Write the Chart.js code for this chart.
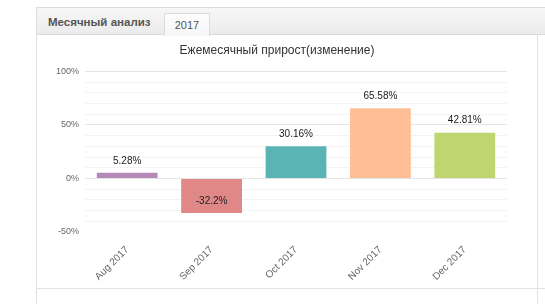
<!DOCTYPE html>
<html>
<head>
<meta charset="utf-8">
<script src="https://cdn.jsdelivr.net/npm/chart.js@4"></script>
<style>
  body { margin: 0; width: 545px; height: 304px; overflow: hidden; background: #fff; font-family: "Liberation Sans", Arial, sans-serif; }
  .abs { position: absolute; }
  #leftLine { left: 36px; top: 7px; width: 1px; height: 297px; background: #dedede; }
  #header { left: 36px; top: 7px; width: 509px; height: 26px; background: linear-gradient(#f7f7f7, #ebebeb); border-top: 1px solid #dcdcdc; border-bottom: 1px solid #dcdcdc; }
  #tabTitle { left: 48px; top: 16px; font-size: 11.5px; font-weight: bold; color: #555; }
  #tab { left: 164px; top: 13px; width: 44px; height: 22px; background: linear-gradient(#fdfdfd, #f6f6f6); border: 1px solid #dcdcdc; border-bottom: none; text-align: center; line-height: 22px; font-size: 11px; color: #555; }
  #rightLine { left: 537px; top: 35px; width: 1px; height: 269px; background: #e3e3e3; }
  #bottomLine { left: 36px; top: 288px; width: 509px; height: 1px; background: #e3e3e3; }
  #wrap { left: 37px; top: 35px; width: 481px; height: 253px; }
</style>
</head>
<body>
<div class="abs" id="header"></div>
<div class="abs" id="leftLine"></div>
<div class="abs" id="tabTitle">Месячный анализ</div>
<div class="abs" id="tab">2017</div>
<div class="abs" id="rightLine"></div>
<div class="abs" id="bottomLine"></div>
<div class="abs" id="wrap"><canvas id="growthChart" width="481" height="253"></canvas></div>
<script>
const months = ['Aug 2017', 'Sep 2017', 'Oct 2017', 'Nov 2017', 'Dec 2017'];
const growth = [5.28, -32.2, 30.16, 65.58, 42.81];
const barColors = ['#b589b7', '#e08787', '#5bb4b4', '#ffbf96', '#bfd670'];
const yTicks = [-50, 0, 50, 100];

// value text above the end of each bar
const valueLabels = {
  id: 'valueLabels',
  afterDatasetsDraw(chart) {
    const ctx = chart.ctx;
    const meta = chart.getDatasetMeta(0);
    ctx.save();
    ctx.font = '10px "Liberation Sans", Arial, sans-serif';
    ctx.fillStyle = '#222';
    ctx.textAlign = 'center';
    ctx.textBaseline = 'middle';
    meta.data.forEach((bar, i) => {
      ctx.fillText(growth[i] + '%', bar.x, bar.y - 12);
    });
    ctx.restore();
  }
};

const ctx = document.getElementById('growthChart').getContext('2d');
let chart = new Chart(ctx, {
  type: 'bar',
  data: {
    labels: months,
    datasets: [{
      data: growth,
      backgroundColor: barColors,
      borderWidth: 0,
      categoryPercentage: 0.8,
      barPercentage: 0.9
    }]
  },
  options: {
    responsive: false,
    animation: false,
    devicePixelRatio: 1,
    layout: { padding: { left: 10, right: 11, top: 0, bottom: 0 } },
    plugins: {
      legend: { display: false },
      tooltip: { enabled: false },
      title: {
        display: true,
        text: 'Ежемесячный прирост(изменение)',
        color: '#333',
        font: { size: 12, weight: 'normal', family: '"Liberation Sans", Arial, sans-serif' },
        padding: { top: 8, bottom: 14 }
      }
    },
    scales: {
      x: {
        grid: { display: false },
        border: { display: false },
        ticks: {
          minRotation: 45,
          maxRotation: 45,
          color: '#666',
          padding: 4,
          font: { size: 10, family: '"Liberation Sans", Arial, sans-serif' }
        },
        afterFit(scale) { scale.height = 56; }
      },
      y: {
        min: -50,
        max: 100,
        border: { display: false },
        grid: {
          drawTicks: false,
          color: (c) => {
            const v = c.tick ? c.tick.value : 0;
            if (v === -50) return 'rgba(0,0,0,0)';
            return v % 50 === 0 ? '#e4e4e4' : '#f3f3f3';
          }
        },
        ticks: {
          stepSize: 10,
          autoSkip: false,
          padding: 6,
          color: '#666',
          font: { size: 9, family: '"Liberation Sans", Arial, sans-serif' },
          callback: (v) => yTicks.includes(v) ? v + '%' : ''
        },
        afterFit(scale) { scale.width = 38; }
      }
    }
  },
  plugins: [valueLabels]
});
</script>
</body>
</html>
